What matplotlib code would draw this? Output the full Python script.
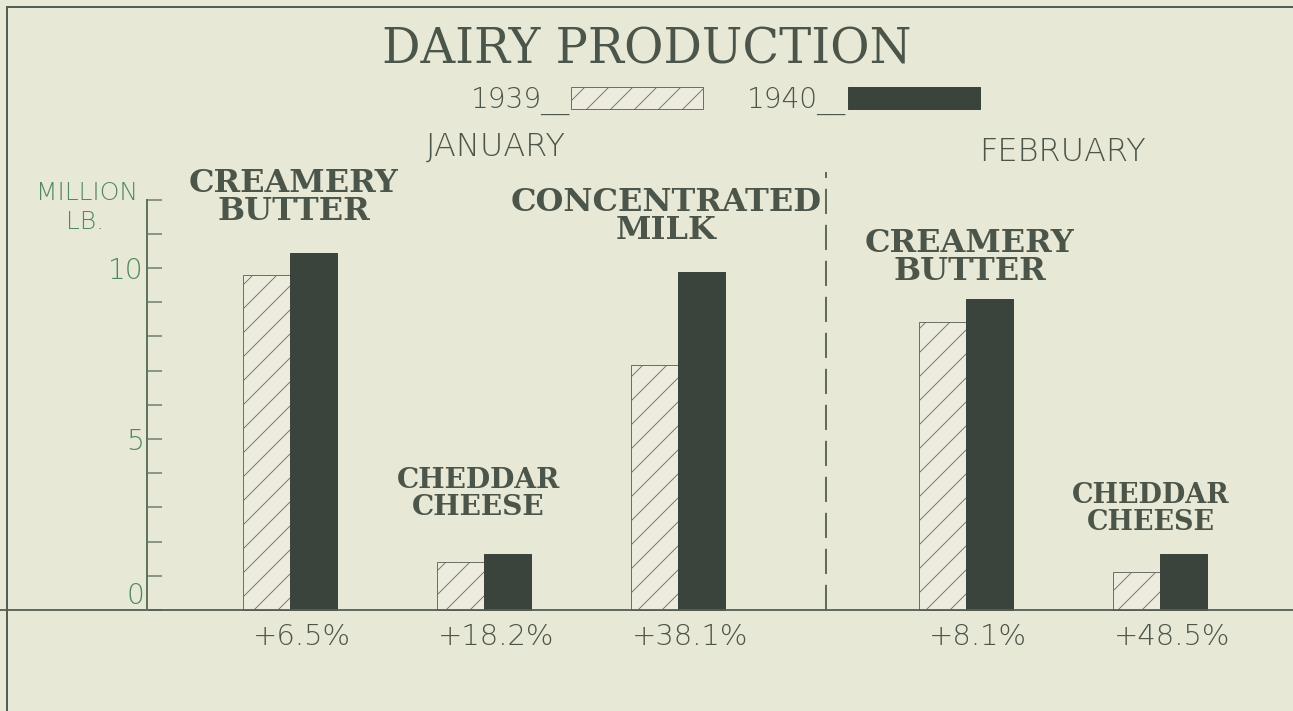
import numpy as np
import matplotlib
matplotlib.use("Agg")
import matplotlib.pyplot as plt

# data: million lb
products = ["CREAMERY\nBUTTER", "CHEDDAR\nCHEESE", "CONCENTRATED\nMILK",
            "CREAMERY\nBUTTER", "CHEDDAR\nCHEESE"]
months = ["JANUARY", "FEBRUARY"]
prod_1939 = [9.8, 1.4, 7.15, 8.42, 1.1]
prod_1940 = [10.44, 1.65, 9.88, 9.09, 1.63]
change = ["+6.5%", "+18.2%", "+38.1%", "+8.1%", "+48.5%"]

bg = "#e8e8d7"
ink = "#4b5549"
green = "#4f8a5c"
dark = "#3a443d"

plt.rcParams["hatch.linewidth"] = 0.9
plt.rcParams["hatch.color"] = "#6d716a"

DPI = 72
fig = plt.figure(figsize=(1293 / DPI, 711 / DPI), dpi=DPI, facecolor=bg)
ax = fig.add_axes([0, 0, 1, 1], facecolor=bg)

# group positions: three january groups, then a wider gap before february
pos = np.concatenate([np.arange(3), 3.485 + np.arange(2)])
w = 0.243

ax.bar(pos - w / 2, prod_1939, w, color="#ecebdd", edgecolor="#6d716a",
       linewidth=1.0, hatch="/", label="1939__")
ax.bar(pos + w / 2, prod_1940, w, color=dark, edgecolor=dark,
       linewidth=1.0, label="1940__")

# pixel-based view: 0 at 610px from top, 34.2 px per unit, 194 px per group
ax.set_ylim(-101 / 34.2, 610 / 34.2)
ax.set_xlim(-290 / 194, (1293 - 290) / 194)

# y axis
for s in ["top", "right", "bottom"]:
    ax.spines[s].set_visible(False)
ax.spines["left"].set_position(("data", (147 - 290) / 194))
ax.spines["left"].set_bounds(0, 12)
ax.spines["left"].set_color("#5d7560")
ax.spines["left"].set_linewidth(2)
ax.set_yticks([0, 5, 10])
ax.set_yticklabels(["0", "5", "10"], fontsize=28, color=green,
                   family="DejaVu Sans", fontweight="light")
ax.get_yticklabels()[0].set_verticalalignment("bottom")
ax.set_yticks(np.arange(0, 13), minor=True)
ax.tick_params(axis="y", which="both", direction="in", length=15, width=1.5,
               color="#6d7d6c", pad=3)
ax.set_xticks([])

ax.axhline(0, color="#555e52", lw=1.8)
# frame
ax.plot([7 / 1293, 7 / 1293], [0, 1 - 7 / 711], transform=ax.transAxes,
        color="#555e52", lw=2)
ax.plot([7 / 1293, 1], [1 - 7 / 711, 1 - 7 / 711], transform=ax.transAxes,
        color="#555e52", lw=2)

# month divider
ax.plot([(826 - 290) / 194] * 2, [0, (610 - 172) / 34.2], color="#555e52",
        lw=1.8, ls=(0, (14, 6)))

# labels
ax.text(0.5, 1 - 50 / 711, "DAIRY PRODUCTION", transform=ax.transAxes,
        ha="center", va="center", fontsize=48, family="DejaVu Serif",
        color=ink)
ax.text(1.06, 13.55, months[0], ha="center", va="center", fontsize=32,
        color=ink, family="DejaVu Sans", fontweight="light")
ax.text(3.98, 13.4, months[1], ha="center", va="center", fontsize=32,
        color=ink, family="DejaVu Sans", fontweight="light")
ax.text(-1.046, 12.2, "MILLION", ha="center", va="center", fontsize=25,
        color=green, family="DejaVu Sans", fontweight="light")
ax.text(-1.057, 11.35, "LB.", ha="center", va="center", fontsize=25,
        color=green, family="DejaVu Sans", fontweight="light")

label_dx = [0.02, -0.03, -0.06, 0.02, -0.05]
label_y = [11.2, 2.6, 10.65, 9.45, 2.15]
label_size = [32, 28, 32, 32, 27]
label_ls = [0.86, 1.0, 0.86, 0.86, 1.0]
for p, name, dx, ly, fs, ls in zip(pos, products, label_dx, label_y,
                                   label_size, label_ls):
    ax.text(p + dx, ly, name, ha="center", va="bottom", fontsize=fs,
            family="DejaVu Serif", fontweight="bold", color=ink,
            linespacing=ls)

for p, c in zip(pos, change):
    ax.text(p + 0.06, -0.8, c, ha="center", va="center", fontsize=29,
            family="DejaVu Sans", fontweight="light", color=ink)

ax.legend(loc="center", bbox_to_anchor=(725 / 1293, 1 - 100 / 711), ncol=2,
          frameon=False, markerfirst=False, handlelength=4.7,
          handleheight=0.85, handletextpad=0.05, columnspacing=1.6,
          labelcolor=ink, prop={"family": "DejaVu Sans", "weight": "light",
                                "size": 28})

fig.savefig("out.png", dpi=DPI, facecolor=bg)
